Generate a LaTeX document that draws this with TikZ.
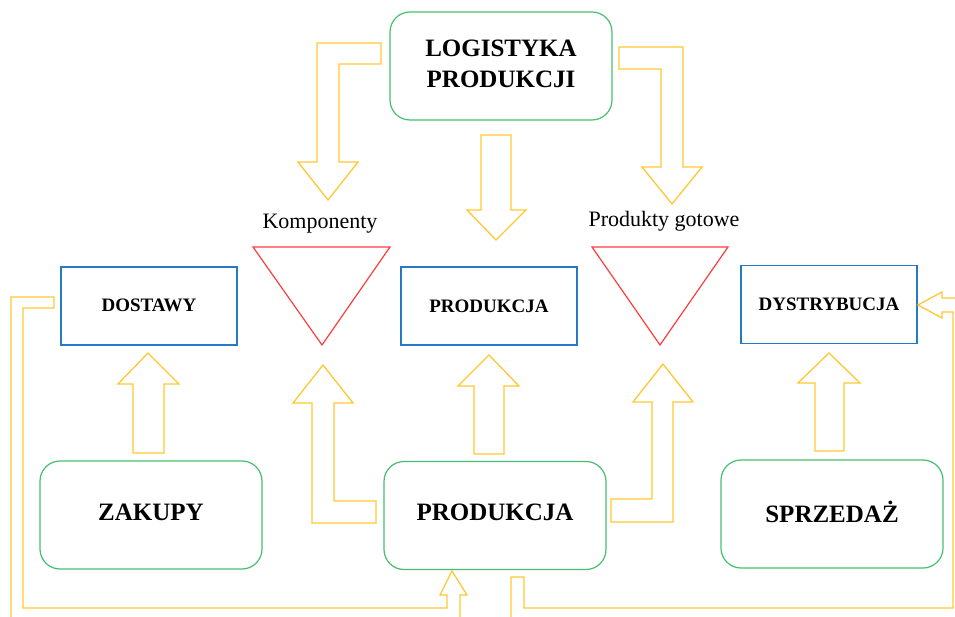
\documentclass[tikz,border=0pt]{standalone}
\usepackage{fontspec}
\setmainfont{Liberation Serif}
\definecolor{ylw}{RGB}{255,200,50}
\definecolor{grn}{RGB}{70,190,110}
\definecolor{blu}{RGB}{40,120,200}
\definecolor{rd}{RGB}{255,60,60}
\begin{document}
\begin{tikzpicture}[x=1pt,y=-1pt,
 bigbox/.style={draw=grn, line width=1.2pt, rounded corners=20pt, minimum width=222pt, minimum height=108pt, font=\fontsize{25}{31}\selectfont\bfseries, align=center, inner sep=0pt},
 smallbox/.style={draw=blu, line width=1.2pt, minimum width=176pt, minimum height=78pt, font=\fontsize{19}{23}\selectfont\bfseries, inner sep=0pt},
 blockarrow/.style={draw=ylw, line width=1.3pt, line join=miter},
 store/.style={draw=rd, line width=1.2pt, line join=miter},
 lbl/.style={font=\fontsize{22}{26}\selectfont, inner sep=0pt}]
\useasboundingbox (0,0) rectangle (955,617);
\clip (0,0) rectangle (955,617);
% boxes
\node[bigbox] (logi) at (501,66) {\raisebox{-2pt}{\begin{tabular}{@{}c@{}}LOGISTYKA\\PRODUKCJI\end{tabular}}};
\node[smallbox] (dost) at (149,306) {\raisebox{1pt}{DOSTAWY}};
\node[smallbox] (proda) at (489,306) {PRODUKCJA};
\node[smallbox] (dyst) at (829,304.5) {\raisebox{-2pt}{DYSTRYBUCJA}};
\node[bigbox] (zak) at (151,515) {\raisebox{5pt}{ZAKUPY}};
\node[bigbox] (prodb) at (495,515.5) {\raisebox{6pt}{PRODUKCJA}};
\node[bigbox] (sprz) at (832,514) {\raisebox{4pt}{SPRZEDAŻ}};
% stores
\draw[store] (253,247) -- (390,247) -- (322,345) -- cycle;
\draw[store] (592,247) -- (728,247) -- (660,345) -- cycle;
\node[lbl] (komp) at (320,224) {Komponenty};
\node[lbl] (prodg) at (664,221) {Produkty gotowe};
% block arrows
\draw[blockarrow] (381,43) -- (317,43) -- (317,162) -- (298,162) -- (328,200) -- (358,162) -- (339,162) -- (339,64) -- (381,64) -- cycle;
\draw[blockarrow] (619,47) -- (683,47) -- (683,167) -- (702,167) -- (672,204) -- (642,167) -- (661,167) -- (661,69) -- (619,69) -- cycle;
\draw[blockarrow] (481,135) -- (511,135) -- (511,210) -- (526,210) -- (496,240) -- (467,210) -- (481,210) -- cycle;
\draw[blockarrow] (133,453) -- (133,384) -- (118,384) -- (148,353) -- (179,384) -- (164,384) -- (164,453) -- cycle;
\draw[blockarrow] (474,454) -- (474,386) -- (458,386) -- (489,355) -- (519,386) -- (504,386) -- (504,454) -- cycle;
\draw[blockarrow] (815,451) -- (815,383) -- (798,383) -- (829,353) -- (860,383) -- (844,383) -- (844,451) -- cycle;
\draw[blockarrow] (376,501) -- (334,501) -- (334,403) -- (353,403) -- (323,365) -- (293,403) -- (312,403) -- (312,523) -- (376,523) -- cycle;
\draw[blockarrow] (611,499) -- (652,499) -- (652,402) -- (633,402) -- (663,364) -- (693,402) -- (673,402) -- (673,522) -- (611,522) -- cycle;
\draw[blockarrow] (54,297) -- (11,297) -- (11,630) -- (460,630) -- (460,595) -- (467,595) -- (452,571) -- (440,595) -- (447,595) -- (447,608) -- (23,608) -- (23,308) -- (54,308) -- cycle;
\draw[blockarrow] (511,630) -- (511,577) -- (524,577) -- (524,608) -- (953,608) -- (953,312) -- (942,312) -- (942,318) -- (918,305) -- (942,292) -- (942,298) -- (966,298) -- (966,630) -- cycle;
\end{tikzpicture}
\end{document}
